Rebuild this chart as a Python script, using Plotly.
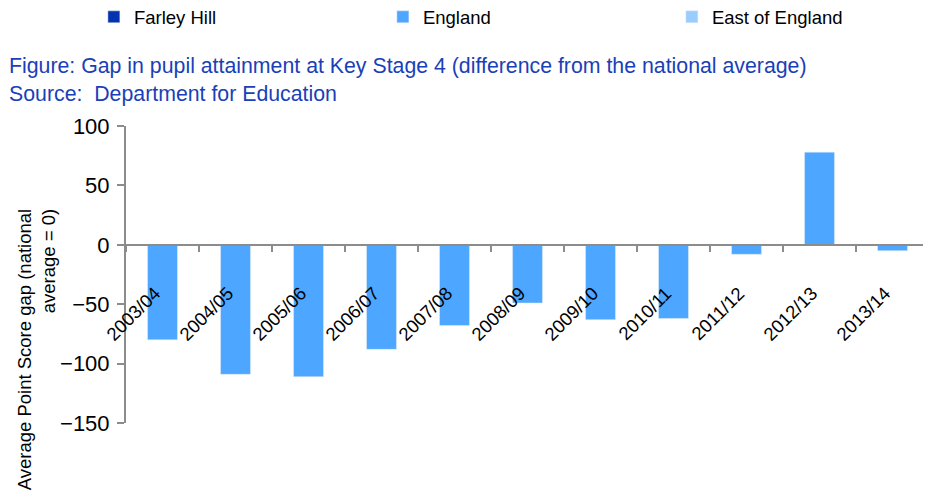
import plotly.graph_objects as go

# Datos
years = ["2003/04", "2004/05", "2005/06", "2006/07", "2007/08", "2008/09",
         "2009/10", "2010/11", "2011/12", "2012/13", "2013/14"]
farley_hill = [None] * len(years)
england = [-80, -109, -111, -88, -68, -49, -63, -62, -8, 78, -5]
east_of_england = [None] * len(years)

fig = go.Figure()
fig.add_trace(go.Bar(x=years, y=farley_hill, name="Farley Hill", marker_color="#0433b0"))
fig.add_trace(go.Bar(x=years, y=england, name="England", marker_color="#4da6ff", width=0.41))
fig.add_trace(go.Bar(x=years, y=east_of_england, name="East of England", marker_color="#99ccff"))

gris = "#8c8c8c"
# la página añade 8 px de margen al body, por eso el tamaño es algo menor
fig.update_layout(
    width=923, height=486,
    barmode="overlay",
    plot_bgcolor="white", paper_bgcolor="white",
    font=dict(family="Liberation Sans, Arial", size=17, color="black"),
    margin=dict(l=118, r=2, t=118, b=71, autoexpand=False),
    showlegend=True,
    legend=dict(orientation="h", x=-0.04, y=1.366, xanchor="left", yanchor="middle",
                entrywidth=244, font=dict(size=18.5), traceorder="normal"),
    xaxis=dict(anchor="free", position=0.6, showline=True, linecolor=gris, linewidth=2,
               range=[-0.5, len(years) - 0.5], autorange=False,
               ticks="outside", tickson="boundaries", tickcolor=gris, ticklen=6, tickwidth=2,
               showticklabels=False, showgrid=False),
    yaxis=dict(range=[-150, 100], dtick=50, showline=True, linecolor=gris, linewidth=2,
               ticks="outside", tickcolor=gris, ticklen=7, tickwidth=2, showgrid=False,
               ticklabelstandoff=3, zeroline=False, tickfont=dict(size=22)),
)

# Etiquetas de categoría inclinadas bajo la línea del cero
for yr in years:
    fig.add_annotation(x=yr, y=0, xref="x", yref="y", text=yr, textangle=-45,
                       xanchor="right", yanchor="top", xshift=5, yshift=-35,
                       showarrow=False, font=dict(size=18.5))

# Título y fuente
azul = "#1a3fb8"
fig.add_annotation(text="Figure: Gap in pupil attainment at Key Stage 4 (difference from the national average)<br>Source:  Department for Education",
                   xref="paper", yref="paper", x=-0.148, y=1.06, xanchor="left", yanchor="bottom",
                   align="left", showarrow=False, font=dict(size=21.3, color=azul))

# Título del eje Y
fig.add_annotation(text="Average Point Score gap (national<br>average = 0)",
                   xref="paper", yref="paper", x=-0.112, y=0.245, xanchor="center", yanchor="middle",
                   textangle=-90, align="right", showarrow=False, font=dict(size=18.5))

fig.write_html("out.html")
